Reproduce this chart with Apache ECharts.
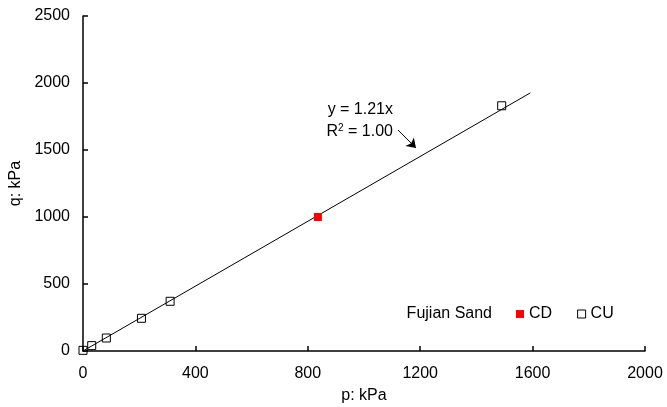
<!DOCTYPE html>
<html>
<head>
<meta charset="utf-8">
<script src="https://cdn.jsdelivr.net/npm/echarts@6/dist/echarts.min.js"></script>
<style>html,body{margin:0;padding:0;background:#fff}#c{width:667px;height:407px}</style>
</head>
<body>
<div id="c"></div>
<script>
var xTicks = [0, 400, 800, 1200, 1600, 2000];
var yTicks = [0, 500, 1000, 1500, 2000, 2500];
var cuPoints = [[0, 5], [31, 40], [83, 97], [208, 244], [310, 371], [1490, 1830]];
var cdPoints = [[836, 1000]];
var fitSlope = 1.21;
var fitRange = [0, 1592];
var arrowFrom = [1121, 1649];
var arrowTo = [1185, 1515];

var FONT = 'Liberation Sans, Arial, sans-serif';
var FS = 16;
var chart = echarts.init(document.getElementById('c'), null, {renderer: 'canvas'});
var fitLine = fitRange.map(function (x) { return [x, fitSlope * x]; });
var plain = function (v) { return String(v); };

chart.setOption({
  animation: false,
  backgroundColor: '#fff',
  textStyle: {fontFamily: FONT},
  grid: {left: 83, right: 22, top: 16, bottom: 56, containLabel: false, outerBoundsMode: 'none'},
  xAxis: {
    type: 'value', min: xTicks[0], max: xTicks[xTicks.length - 1], interval: 400,
    name: 'p: kPa', nameLocation: 'middle', nameGap: 37,
    nameTextStyle: {color: '#000', fontSize: FS, fontFamily: FONT},
    axisLine: {show: true, lineStyle: {color: '#000', width: 1.5}},
    axisTick: {show: true, inside: true, length: 5, lineStyle: {color: '#000', width: 1.5}},
    axisLabel: {color: '#000', fontSize: FS, fontFamily: FONT, margin: 15, formatter: plain},
    splitLine: {show: false}
  },
  yAxis: {
    type: 'value', min: yTicks[0], max: yTicks[yTicks.length - 1], interval: 500,
    name: 'q: kPa', nameLocation: 'middle', nameGap: 43, nameRotate: 90,
    nameTextStyle: {color: '#000', fontSize: FS, fontFamily: FONT},
    axisLine: {show: true, lineStyle: {color: '#000', width: 1.5}},
    axisTick: {show: true, inside: true, length: 5, lineStyle: {color: '#000', width: 1.5}},
    axisLabel: {color: '#000', fontSize: FS, fontFamily: FONT, margin: 13, formatter: plain},
    splitLine: {show: false}
  },
  legend: {
    left: 511, top: 301, orient: 'horizontal', padding: 5,
    itemWidth: 8, itemHeight: 8, itemGap: 25,
    textStyle: {color: '#000', fontSize: FS, fontFamily: FONT},
    data: [
      {name: 'CD', icon: 'rect', itemStyle: {color: '#ff0000', borderWidth: 0}},
      {name: 'CU', icon: 'rect', itemStyle: {color: '#fff', borderColor: '#000', borderWidth: 1}}
    ]
  },
  series: [
    {
      name: 'fit', type: 'line', data: fitLine, symbol: 'none', silent: true,
      lineStyle: {color: '#000', width: 1}, z: 1,
      markLine: {
        silent: true, symbol: ['none', 'arrow'], symbolSize: 9,
        label: {show: false},
        lineStyle: {color: '#000', width: 1, type: 'solid'},
        data: [[{coord: arrowFrom}, {coord: arrowTo}]]
      }
    },
    {
      name: 'CD', type: 'scatter', data: cdPoints, symbol: 'rect', symbolSize: 8,
      itemStyle: {color: '#ff0000', opacity: 1}, z: 3
    },
    {
      name: 'CU', type: 'scatter', data: cuPoints, symbol: 'rect', symbolSize: 8,
      itemStyle: {color: 'rgba(255,255,255,0)', borderColor: '#000', borderWidth: 1, opacity: 1}, z: 3
    }
  ],
  graphic: [
    {type: 'text', right: 667 - 393, top: 102, style: {text: 'y = 1.21x', fill: '#000', font: FS + 'px ' + FONT, textAlign: 'right'}},
    {type: 'text', right: 667 - 393, top: 123, style: {
      text: '{a|R}{s|2}{a| = 1.00}', fill: '#000', textAlign: 'right',
      rich: {a: {fontSize: FS, fontFamily: FONT, fill: '#000'}, s: {fontSize: 10, fontFamily: FONT, verticalAlign: 'top', fill: '#000', padding: [0, 0, 7, 0]}}
    }},
    {type: 'text', right: 667 - 492, top: 306, style: {text: 'Fujian Sand', fill: '#000', font: FS + 'px ' + FONT, textAlign: 'right'}}
  ]
});
</script>
</body>
</html>
